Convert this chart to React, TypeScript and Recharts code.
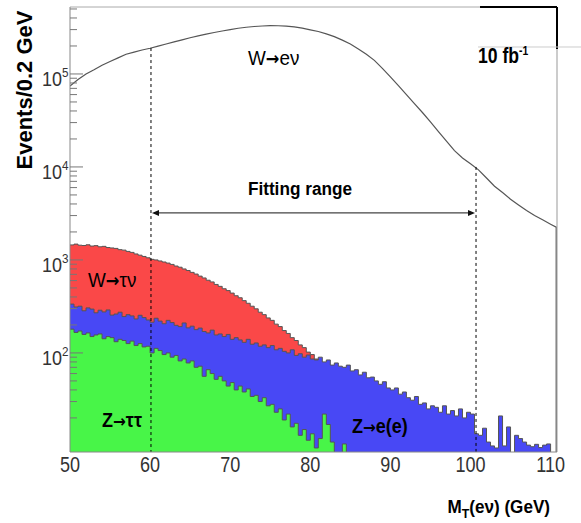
import React from "react";
import {
  ComposedChart,
  Area,
  Line,
  XAxis,
  YAxis,
  ReferenceLine,
  ReferenceDot,
} from "recharts";

const FONT = '"Liberation Sans", Arial, Helvetica, sans-serif';
const ARROW_FONT = '"DejaVu Sans", "Liberation Sans", sans-serif';

// ---- binning (0.5 GeV bins from 50 GeV) ----
const BIN_LOW = 50;
const BIN_WIDTH = 0.5;

// W -> tau nu (red), events per bin, bins 50.0 ... 110.0
const wTauNu = [
  1450, 1480, 1440, 1430, 1455, 1410, 1425, 1385, 1400, 1360,
  1345, 1330, 1290, 1275, 1235, 1205, 1160, 1125, 1090, 1055,
  1015, 1000, 975, 950, 925, 895, 860, 835, 800, 770,
  735, 705, 670, 640, 605, 580, 545, 520, 490, 468,
  440, 412, 392, 365, 342, 318, 298, 274, 258, 238,
  224, 204, 192, 174, 162, 146, 136, 122, 114, 102,
  96, 86, 80, 72, 67, 60, 55, 50, 46, 42,
  38, 35, 32, 29, 26, 24, 22, 20, 18, 16,
  15, 13, 12, 11, 10, 9, 8, 7, 6.5, 6,
  5.5, 5, 4.6, 4.3, 4, 3.7, 3.5, 3.2, 3, 2.8,
  2.6, 2.4, 2.2, 2, 1.9, 1.8, 1.7, 1.6, 1.5, 1.4,
  1.3, 1.2, 1.1, 1, 1, 1, 1, 1, 1, 1,
  1,
];

// Z -> e(e) (blue)
const zEE = [
  335, 312, 318, 284, 305, 296, 270, 288, 276, 290,
  255, 262, 274, 246, 258, 250, 232, 254, 240, 226,
  214, 236, 220, 206, 224, 212, 198, 192, 210, 186,
  194, 178, 185, 170, 164, 176, 156, 160, 150, 158,
  140, 146, 138, 130, 140, 124, 128, 118, 122, 114,
  120, 108, 112, 104, 100, 108, 94, 98, 90, 95,
  86, 84, 90, 80, 84, 74, 78, 72, 70, 74,
  64, 66, 58, 62, 54, 55, 50, 46, 49, 42,
  40, 42, 36, 38, 33, 31, 34, 28, 29, 25,
  27, 26, 23, 27, 22, 24, 21, 25, 20, 23,
  22, 13.5, 13, 15.5, 11, 10, 9.5, 21, 10, 16,
  3, 13, 12, 11, 10.2, 9.8, 10.4, 9.6, 10.2, 10.5,
  3,
];

// Z -> tau tau (green)
const zTauTau = [
  180, 166, 172, 158, 164, 150, 156, 160, 142, 150,
  146, 132, 140, 136, 126, 134, 120, 126, 116, 118,
  100, 112, 106, 96, 100, 90, 94, 82, 86, 78,
  82, 70, 72, 56, 66, 60, 52, 56, 50, 44,
  48, 40, 44, 38, 41, 34, 35, 30, 33, 27,
  28, 23, 25, 19, 22, 16, 17.5, 13, 15, 11.5,
  13.5, 9.5, 12, 22, 17, 11, 3, 8, 10.5, 3,
  3, 3, 3, 3, 3, 3, 3, 3, 3, 3,
  3, 3, 3, 3, 3, 3, 3, 3, 3, 3,
  3, 3, 3, 3, 3, 3, 3, 3, 3, 3,
  3, 3, 3, 3, 3, 3, 3, 3, 3, 3,
  3, 3, 3, 3, 3, 3, 3, 3, 3, 3,
  3,
];

// W -> e nu (signal line)
const wEnuMass = [
  50, 51, 52, 53, 54, 55, 56, 57, 58, 59,
  60, 61, 62, 63, 64, 65, 66, 67, 68, 69,
  70, 71, 72, 73, 74, 75, 76, 77, 78, 79,
  80, 81, 82, 83, 84, 85, 86, 87, 88, 89,
  90, 91, 92, 93, 94, 95, 96, 97, 98, 99,
  100, 101, 102, 103, 104, 105, 106, 107, 108, 109,
  110, 110.7, 110.7,
];
const wEnu = [
  74000, 87000, 100000, 111000, 124000, 136000, 149000, 163000, 172000, 181000,
  189000, 199000, 210000, 221000, 233000, 245000, 257000, 268000, 279000, 290000,
  300000, 310000, 318000, 324000, 328000, 331000, 330000, 327000, 321000, 311000,
  298000, 286000, 270000, 252000, 231000, 210000, 186000, 163000, 140000, 115000,
  93000, 75000, 60000, 48000, 38500, 30500, 24000, 19000, 15000, 12500,
  10800, 9300, 7600, 6200, 5300, 4500, 3900, 3400, 3000, 2700,
  2420, 2250, 1,
];

const xTicks = [50, 60, 70, 80, 90, 100, 110];
const yLabelTicks = [100, 1000, 10000, 100000];
const yLabelExp = ["2", "3", "4", "5"];
const yMultipliers = [1, 2, 3, 4, 5, 6, 7, 8, 9];
const yDecades = [10, 100, 1000, 10000, 100000];

const X_DOMAIN: [number, number] = [50, 110.8];
const Y_DOMAIN: [number, number] = [8.6, 525000];

// fitting range annotation
const fitLow = 60.11;
const fitHigh = 100.69;

// ---- build table ----
type Row = { x: number; wtau?: number; zee?: number; ztau?: number; ev?: number };
const rows: Row[] = [];
for (let i = 0; i < zEE.length; i++) {
  rows.push({ x: BIN_LOW + i * BIN_WIDTH, wtau: wTauNu[i], zee: zEE[i], ztau: zTauTau[i] });
}
{
  const n = zEE.length;
  rows.push({
    x: BIN_LOW + n * BIN_WIDTH,
    wtau: wTauNu[n - 1],
    zee: zEE[n - 1],
    ztau: zTauTau[n - 1],
  });
}
const extra: Row[] = [];
wEnuMass.forEach((m, i) => {
  const r = rows.find((row) => Math.abs(row.x - m) < 1e-9 && row.ev === undefined);
  if (r && !extra.length) r.ev = wEnu[i];
  else extra.push({ x: m, ev: wEnu[i] });
});
const data = rows.concat(extra);

const yTicks: number[] = [];
yDecades.forEach((d) =>
  yMultipliers.forEach((m) => {
    const v = d * m;
    if (v >= 20 && v < Y_DOMAIN[1]) yTicks.push(v);
  })
);

// ---- text helper ----
function Txt(props: any) {
  const { x, y, size, bold, sx = 1, anchor = "start", fill = "#000", children, rotate } = props;
  const tr = rotate
    ? `translate(${x},${y}) rotate(${rotate}) scale(${sx},1)`
    : `translate(${x},${y}) scale(${sx},1)`;
  return (
    <text
      transform={tr}
      x={0}
      y={0}
      fontSize={size}
      fontWeight={bold ? "bold" : "normal"}
      fontFamily={FONT}
      textAnchor={anchor}
      fill={fill}
    >
      {children}
    </text>
  );
}

const Arrow = ({ size }: { size: number }) => (
  <tspan fontSize={size} fontFamily={ARROW_FONT} fontWeight="bold">
    →
  </tspan>
);

function XTick(props: any) {
  const { x, y, payload } = props;
  return (
    <Txt x={x} y={y + 20} size={22} sx={0.82} anchor="middle" fill="#333">
      {payload.value}
    </Txt>
  );
}

function YTick(props: any) {
  const { x, y, payload } = props;
  const v = payload.value;
  const idx = yLabelTicks.indexOf(v);
  const isMajor = idx >= 0;
  return (
    <g>
      <line x1={x} x2={x + (isMajor ? 13 : 7)} y1={y} y2={y} stroke="#777" strokeWidth={1} />
      {isMajor && (
        <Txt x={x - 28} y={y + 12} size={20} sx={0.9} fill="#333">
          10
          <tspan fontSize={13} dy={-8.5}>
            {yLabelExp[idx]}
          </tspan>
        </Txt>
      )}
    </g>
  );
}

function YTitle(props: any) {
  const vb = props.viewBox || { x: 0, y: 7, width: 70, height: 445 };
  return (
    <Txt x={vb.x + 32} y={vb.y + 83} size={22} bold rotate={-90} anchor="middle">
      Events/0.2 GeV
    </Txt>
  );
}

function XTitle(props: any) {
  const vb = props.viewBox || { x: 70, y: 452, width: 487, height: 30 };
  return (
    <Txt x={vb.x + vb.width - 7} y={vb.y + 61} size={18} sx={0.95} bold anchor="end">
      M
      <tspan fontSize={13} dy={5}>
        T
      </tspan>
      <tspan dy={-5}>(eν) (GeV)</tspan>
    </Txt>
  );
}

function ArrowShape(p: any) {
  const { x1, y1, x2, y2 } = p;
  return (
    <g>
      <line x1={x1 + 2} y1={y1} x2={x2 - 2} y2={y2} stroke="#444" strokeWidth={1.3} />
      <polygon points={`${x1},${y1} ${x1 + 7},${y1 - 3} ${x1 + 7},${y1 + 3}`} fill="#111" />
      <polygon points={`${x2},${y2} ${x2 - 7},${y2 - 3} ${x2 - 7},${y2 + 3}`} fill="#111" />
    </g>
  );
}

const label = (content: (cx: number, cy: number) => React.ReactElement) => (p: any) =>
  content(p.cx, p.cy);

export default function App() {
  return (
    <div style={{ position: "absolute", left: 0, top: 0, width: 581, height: 523, background: "#fff" }}>
      <ComposedChart
        width={581}
        height={523}
        data={data}
        margin={{ top: 7, right: 24, bottom: 41, left: 0 }}
      >
        <XAxis
          dataKey="x"
          type="number"
          domain={X_DOMAIN}
          allowDataOverflow
          ticks={xTicks}
          interval={0}
          tick={XTick}
          tickLine={false}
          tickSize={0}
          tickMargin={0}
          axisLine={{ stroke: "#888" }}
          height={30}
          label={{ content: XTitle }}
        />
        <YAxis
          type="number"
          scale="log"
          domain={Y_DOMAIN}
          allowDataOverflow
          ticks={yTicks}
          interval={0}
          tick={YTick}
          tickLine={false}
          tickSize={0}
          tickMargin={0}
          axisLine={{ stroke: "#888" }}
          width={70}
          label={{ content: YTitle }}
        />
        <Area
          type="stepAfter"
          dataKey="wtau"
          baseValue={Y_DOMAIN[0]}
          fill="#fa4848"
          fillOpacity={1}
          stroke="#555"
          strokeWidth={1}
          dot={false}
          activeDot={false}
          isAnimationActive={false}
        />
        <Area
          type="stepAfter"
          dataKey="zee"
          baseValue={Y_DOMAIN[0]}
          fill="#4848f5"
          fillOpacity={1}
          stroke="#555"
          strokeWidth={1}
          dot={false}
          activeDot={false}
          isAnimationActive={false}
        />
        <Area
          type="stepAfter"
          dataKey="ztau"
          baseValue={Y_DOMAIN[0]}
          fill="#48f548"
          fillOpacity={1}
          stroke="#555"
          strokeWidth={1}
          dot={false}
          activeDot={false}
          isAnimationActive={false}
        />
        <Line
          type="linear"
          dataKey="ev"
          stroke="#555"
          strokeWidth={1.2}
          dot={false}
          activeDot={false}
          connectNulls
          isAnimationActive={false}
        />

        {/* frame */}
        <ReferenceLine y={Y_DOMAIN[1]} stroke="#aaa" ifOverflow="visible" />
        <ReferenceLine x={X_DOMAIN[1]} stroke="#999" ifOverflow="visible" />
        <ReferenceLine
          segment={[{ x: 101.19, y: Y_DOMAIN[1] }, { x: X_DOMAIN[1], y: Y_DOMAIN[1] }]}
          stroke="#000"
          strokeWidth={2}
          ifOverflow="visible"
        />
        <ReferenceLine
          segment={[{ x: X_DOMAIN[1], y: Y_DOMAIN[1] }, { x: X_DOMAIN[1], y: 186000 }]}
          stroke="#000"
          strokeWidth={2}
          ifOverflow="visible"
        />
        <ReferenceLine
          segment={[{ x: 100.94, y: 195000 }, { x: 113.8, y: 195000 }]}
          stroke="#ccc"
          ifOverflow="visible"
        />

        {/* fitting range */}
        <ReferenceLine
          segment={[{ x: fitLow, y: 190000 }, { x: fitLow, y: Y_DOMAIN[0] }]}
          stroke="#000"
          strokeDasharray="3 3"
          ifOverflow="visible"
        />
        <ReferenceLine
          segment={[{ x: fitHigh, y: 10000 }, { x: fitHigh, y: Y_DOMAIN[0] }]}
          stroke="#000"
          strokeDasharray="3 3"
          ifOverflow="visible"
        />
        <ReferenceLine
          segment={[{ x: 60.24, y: 3200 }, { x: 100.56, y: 3200 }]}
          shape={ArrowShape}
          ifOverflow="visible"
        />

        {/* annotations */}
        <ReferenceDot
          x={72.22}
          y={125000}
          r={0}
          ifOverflow="visible"
          shape={label((cx, cy) => (
            <Txt x={cx} y={cy} size={21} sx={0.9}>
              W<Arrow size={18} />eν
            </Txt>
          ))}
        />
        <ReferenceDot
          x={100.94}
          y={131000}
          r={0}
          ifOverflow="visible"
          shape={label((cx, cy) => (
            <Txt x={cx} y={cy} size={22} sx={0.8} bold>
              10 fb
              <tspan fontSize={13} dy={-8}>
                -1
              </tspan>
            </Txt>
          ))}
        />
        <ReferenceDot
          x={78.71}
          y={5000}
          r={0}
          ifOverflow="visible"
          shape={label((cx, cy) => (
            <Txt x={cx} y={cy} size={18.5} sx={0.93} bold anchor="middle">
              Fitting range
            </Txt>
          ))}
        />
        <ReferenceDot
          x={52.25}
          y={513}
          r={0}
          ifOverflow="visible"
          shape={label((cx, cy) => (
            <Txt x={cx} y={cy} size={21} sx={0.9}>
              W<Arrow size={18} />τν
            </Txt>
          ))}
        />
        <ReferenceDot
          x={54.0}
          y={16}
          r={0}
          ifOverflow="visible"
          shape={label((cx, cy) => (
            <Txt x={cx} y={cy} size={20} sx={0.9} bold>
              Z<Arrow size={17} />ττ
            </Txt>
          ))}
        />
        <ReferenceDot
          x={85.2}
          y={13.8}
          r={0}
          ifOverflow="visible"
          shape={label((cx, cy) => (
            <Txt x={cx} y={cy} size={20} sx={0.9} bold>
              Z<Arrow size={17} />e(e)
            </Txt>
          ))}
        />
      </ComposedChart>
    </div>
  );
}
